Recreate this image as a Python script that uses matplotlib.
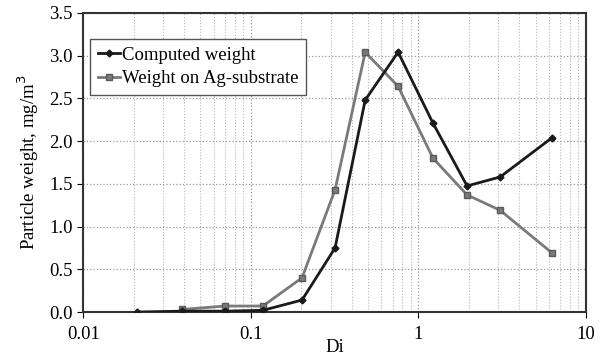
import numpy as np
import matplotlib
matplotlib.use("Agg")
import matplotlib.pyplot as plt
from matplotlib.ticker import FixedLocator, FixedFormatter, LogLocator, NullFormatter

plt.rcParams['font.family'] = ['Liberation Serif', 'DejaVu Serif']

# particle diameter classes and weights
di_computed = [0.021, 0.039, 0.070, 0.118, 0.202, 0.318, 0.481, 0.756, 1.22, 1.95, 3.07, 6.27]
w_computed = [0.0, 0.01, 0.01, 0.02, 0.14, 0.75, 2.48, 3.04, 2.21, 1.475, 1.58, 2.04]

di_ag = [0.039, 0.070, 0.118, 0.202, 0.318, 0.481, 0.756, 1.22, 1.95, 3.07, 6.27]
w_ag = [0.03, 0.07, 0.07, 0.40, 1.43, 3.04, 2.64, 1.80, 1.37, 1.19, 0.69]

xticks = [0.01, 0.1, 1, 10]
xtick_labels = ['0.01', '0.1', '1', '10']
yticks = [0.0, 0.5, 1.0, 1.5, 2.0, 2.5, 3.0, 3.5]

fig = plt.figure(figsize=(6.03, 3.57), dpi=100)
ax = fig.add_axes([0.138, 0.126, 0.834, 0.838])

ax.plot(di_computed, w_computed, color='#1a1a1a', lw=2.0, marker='D', ms=3.5,
        label='Computed weight', zorder=4)
ax.plot(di_ag, w_ag, color='#7a7a7a', lw=2.0, marker='s', ms=4,
        markeredgecolor='#5a5a5a', label='Weight on Ag-substrate', zorder=3)

ax.set_xscale('log')
ax.set_xlim(0.01, 10)
ax.set_ylim(0, 3.5)
ax.xaxis.set_major_locator(FixedLocator(xticks))
ax.xaxis.set_major_formatter(FixedFormatter(xtick_labels))
ax.xaxis.set_minor_locator(LogLocator(base=10, subs=np.arange(2, 10)))
ax.xaxis.set_minor_formatter(NullFormatter())
ax.set_yticks(yticks)
ax.set_yticklabels(['%.1f' % v for v in yticks])

ax.grid(which='major', axis='both', color='#9a9a9a', ls=':', lw=0.9)
ax.grid(which='minor', axis='x', color='#b5b5b5', ls=':', lw=0.8)

for s in ax.spines.values():
    s.set_linewidth(1.5)
    s.set_color('#333333')

ax.tick_params(axis='both', which='major', labelsize=13.5, length=4, direction='out')
ax.tick_params(axis='x', which='minor', length=0)
ax.tick_params(axis='x', which='major', pad=6)

ax.set_xlabel('Di', fontsize=13.5, labelpad=-3)
ax.set_ylabel('Particle weight, mg/m$^3$', fontsize=13.5, labelpad=6)

leg = ax.legend(loc='upper left', bbox_to_anchor=(0.014, 0.913), borderaxespad=0,
                fontsize=13.5, handlelength=1.2, handletextpad=0.1, borderpad=0.4,
                labelspacing=0.35, fancybox=False, framealpha=1)
leg.get_frame().set_edgecolor('#555555')
leg.get_frame().set_linewidth(1.0)

fig.savefig('out.png', dpi=100)
